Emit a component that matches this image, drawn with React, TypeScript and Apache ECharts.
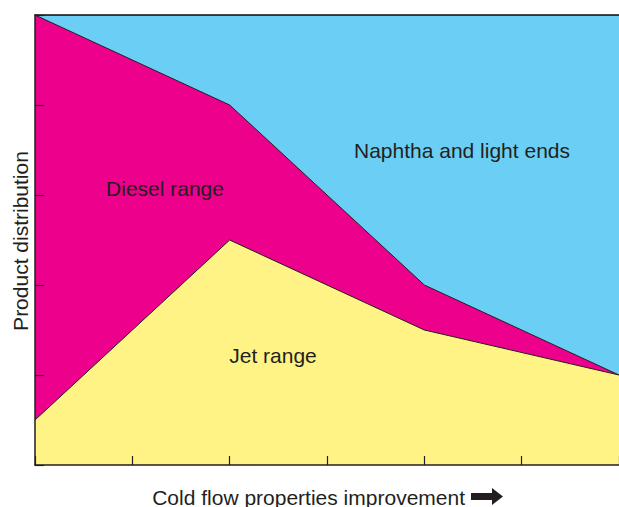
import React, { useEffect, useRef } from "react";
import * as echarts from "echarts";

const xPoints = [0, 2, 4, 6];
const jetRange = [10, 50, 30, 20];
const dieselRange = [90, 30, 10, 0];
const naphthaLightEnds = [0, 20, 60, 80];
const seriesNames = ["Jet range", "Diesel range", "Naphtha and light ends"];
const xAxisTitle = "Cold flow properties improvement";
const yAxisTitle = "Product distribution";

const LINE = "#231f20";
const FONT = "'Liberation Sans', Arial, sans-serif";

export default function App() {
  const ref = useRef<HTMLDivElement>(null);
  useEffect(() => {
    if (!ref.current) return;
    const chart = echarts.init(ref.current, undefined, { renderer: "svg" });
    const colors = ["#fff386", "#ec008c", "#6bcff5"];
    const datas = [jetRange, dieselRange, naphthaLightEnds];
    // cumulative tops (manual stacking)
    const cum: number[][] = [];
    datas.forEach((d, i) => {
      cum.push(d.map((v, j) => v + (i > 0 ? cum[i - 1][j] : 0)));
    });
    const series = datas.map((_, i) => ({
      name: seriesNames[i],
      type: "line",
      data: xPoints.map((x, j) => [x, cum[i][j]]),
      symbol: "none",
      lineStyle: { color: LINE, width: 1 },
      areaStyle: { color: colors[i], opacity: 1 },
      z: 5 - i,
    }));
    chart.setOption({
      animation: false,
      grid: { left: 35, right: 0, top: 15, bottom: 42 },
      xAxis: [
        {
          type: "value",
          min: 0,
          max: 6,
          interval: 1,
          axisLine: { show: true, lineStyle: { color: LINE, width: 1.5 } },
          axisTick: { show: true, inside: true, length: 9, lineStyle: { color: LINE, width: 1.2 } },
          axisLabel: { show: false },
          splitLine: { show: false },
          z: 10,
        },
        {
          type: "value",
          position: "top",
          min: 0,
          max: 6,
          axisLine: { show: true, lineStyle: { color: LINE, width: 1.5 } },
          axisTick: { show: false },
          axisLabel: { show: false },
          splitLine: { show: false },
          z: 10,
        },
      ],
      yAxis: {
        type: "value",
        min: 0,
        max: 100,
        interval: 20,
        axisLine: { show: true, lineStyle: { color: LINE, width: 1.5 } },
        axisTick: { show: true, inside: true, length: 9, lineStyle: { color: LINE, width: 1.2 } },
        axisLabel: { show: false },
        splitLine: { show: false },
        z: 10,
      },
      series,
      graphic: [
        {
          type: "text",
          x: 462,
          y: 150,
          z: 100,
          style: { text: seriesNames[2], font: `21px ${FONT}`, fill: LINE, textAlign: "center", textVerticalAlign: "middle" },
        },
        {
          type: "text",
          x: 165,
          y: 188,
          z: 100,
          style: { text: seriesNames[1], font: `21px ${FONT}`, fill: LINE, textAlign: "center", textVerticalAlign: "middle" },
        },
        {
          type: "text",
          x: 273,
          y: 355,
          z: 100,
          style: { text: seriesNames[0], font: `21px ${FONT}`, fill: LINE, textAlign: "center", textVerticalAlign: "middle" },
        },
        {
          type: "text",
          x: 465,
          y: 497,
          style: { text: xAxisTitle, font: `21px ${FONT}`, fill: LINE, textAlign: "right", textVerticalAlign: "middle" },
        },
        {
          type: "polygon",
          shape: {
            points: [
              [471, 493],
              [492, 493],
              [492, 488],
              [503, 496.5],
              [492, 505],
              [492, 500],
              [471, 500],
            ],
          },
          style: { fill: LINE },
        },
        {
          type: "text",
          x: 20,
          y: 241,
          rotation: Math.PI / 2,
          style: { text: yAxisTitle, font: `21px ${FONT}`, fill: LINE, textAlign: "center", textVerticalAlign: "middle" },
        },
      ],
    });
    return () => chart.dispose();
  }, []);
  return (
    <div
      ref={ref}
      style={{ position: "fixed", left: 0, top: 0, width: 619, height: 507, background: "#fff" }}
    />
  );
}
